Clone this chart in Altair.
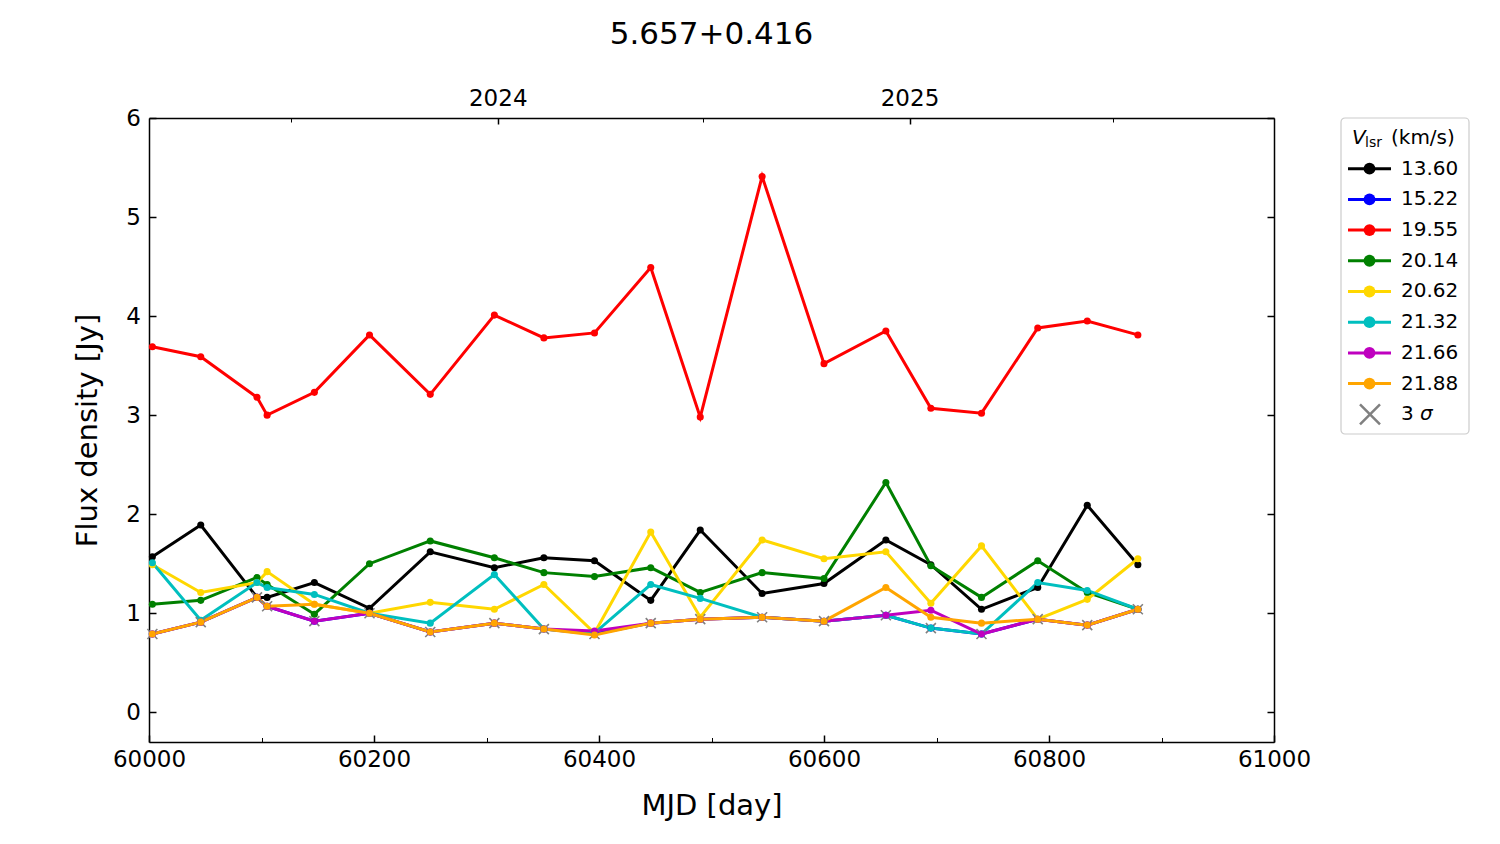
import altair as alt
import pandas as pd

# observation epochs (MJD) and the 3-sigma limit at each epoch
MJD = [60003, 60046, 60096, 60105, 60147, 60196, 60250, 60307, 60351, 60396,
       60446, 60490, 60545, 60600, 60655, 60695, 60740, 60790, 60834, 60879]
SIGMA3 = [0.79, 0.91, 1.16, 1.07, 0.92, 1.00, 0.81, 0.90, 0.84, 0.79,
          0.90, 0.94, 0.96, 0.92, 0.98, 0.85, 0.79, 0.94, 0.88, 1.04]

# flux density per velocity channel [Jy]
F_1360 = [1.57, 1.89, 1.16, 1.16, 1.31, 1.05, 1.62, 1.46, 1.56, 1.53,
          1.13, 1.84, 1.20, 1.30, 1.74, 1.49, 1.04, 1.26, 2.09, 1.49]
F_1522 = [0.79, 0.91, 1.16, 1.07, 0.92, 1.00, 0.81, 0.90, 0.84, 0.79,
          0.90, 0.94, 0.96, 0.92, 0.98, 0.85, 0.79, 0.94, 0.88, 1.04]
F_1955 = [3.69, 3.59, 3.18, 3.00, 3.23, 3.81, 3.21, 4.01, 3.78, 3.83,
          4.49, 2.98, 5.41, 3.52, 3.85, 3.07, 3.02, 3.88, 3.95, 3.81]
F_2014 = [1.09, 1.13, 1.36, 1.29, 0.99, 1.50, 1.73, 1.56, 1.41, 1.37,
          1.46, 1.21, 1.41, 1.35, 2.32, 1.48, 1.16, 1.53, 1.21, 1.04]
F_2062 = [1.49, 1.21, 1.31, 1.42, 1.09, 1.00, 1.11, 1.04, 1.29, 0.80,
          1.82, 0.96, 1.74, 1.55, 1.62, 1.10, 1.68, 0.94, 1.14, 1.55]
F_2132 = [1.51, 0.93, 1.31, 1.26, 1.19, 1.00, 0.90, 1.39, 0.84, 0.80,
          1.29, 1.15, 0.96, 0.92, 0.98, 0.85, 0.79, 1.31, 1.23, 1.04]
F_2166 = [0.79, 0.91, 1.16, 1.07, 0.92, 1.00, 0.81, 0.90, 0.84, 0.82,
          0.90, 0.94, 0.96, 0.92, 0.98, 1.03, 0.79, 0.94, 0.88, 1.04]
F_2188 = [0.79, 0.91, 1.16, 1.07, 1.09, 1.00, 0.81, 0.90, 0.84, 0.78,
          0.90, 0.94, 0.96, 0.92, 1.26, 0.96, 0.90, 0.94, 0.88, 1.04]

LABELS = ["13.60", "15.22", "19.55", "20.14", "20.62", "21.32", "21.66", "21.88"]
COLORS = ["black", "#0000ff", "#ff0000", "#008000", "#ffd700", "#00bfbf", "#bf00bf", "#ffa500"]
SERIES = [F_1360, F_1522, F_1955, F_2014, F_2062, F_2132, F_2166, F_2188]

X_MAJOR = [60000, 60200, 60400, 60600, 60800, 61000]
X_MINOR = [60100, 60300, 60500, 60700, 60900]
Y_TICKS = [0, 1, 2, 3, 4, 5, 6]
YEAR_MJD = [60310, 60676]
YEAR_LABELS = ["2024", "2025"]
HALF_YEAR_MJD = [60126, 60492, 60857]

FONT = "DejaVu Sans"
XPATH = "M-1,-1L1,1M-1,1L1,-1"

df = pd.DataFrame([
    {"mjd": m, "flux": f, "vlsr": lab}
    for lab, vals in zip(LABELS, SERIES)
    for m, f in zip(MJD, vals)
])
sig_df = pd.DataFrame({"mjd": MJD, "flux": SIGMA3})


def axis(**kw):
    opts = dict(grid=False, domain=False, labelFlush=False, labelOverlap=False,
                tickColor="black", tickWidth=1.5, labelColor="black",
                labelFont=FONT, labelFontSize=23, titleFont=FONT,
                titleFontSize=29, titleFontWeight="normal", titleColor="black",
                domainColor="black", domainWidth=1.5)
    opts.update(kw)
    return alt.Axis(**opts)


x_scale = alt.Scale(domain=[60000, 61000], nice=False, zero=False)
y_scale = alt.Scale(domain=[-0.3, 6], nice=False, zero=False)
c_scale = alt.Scale(domain=LABELS, range=COLORS)

year_expr = " : ".join(
    [f"datum.value == {m} ? '{lab}'" for m, lab in zip(YEAR_MJD[:-1], YEAR_LABELS[:-1])]
    + [f"'{YEAR_LABELS[-1]}'"]
)

lines = alt.Chart(df).mark_line(strokeWidth=3).encode(
    x=alt.X("mjd:Q", scale=x_scale,
            axis=axis(orient="bottom", values=X_MAJOR, format="d",
                      tickSize=alt.ExprRef(expr="-7"), labelPadding=13,
                      domain=True, title="MJD [day]", titlePadding=20)),
    y=alt.Y("flux:Q", scale=y_scale,
            axis=axis(orient="left", values=Y_TICKS, format="d",
                      tickSize=alt.ExprRef(expr="-7"), labelPadding=15.5,
                      domain=True, title="Flux density [Jy]", titlePadding=23)),
    color=alt.Color("vlsr:N", scale=c_scale, legend=None),
)

crosses = alt.Chart(sig_df).mark_point(
    shape=XPATH, size=100, filled=False, color="gray", strokeWidth=1.6, opacity=1
).encode(
    x=alt.X("mjd:Q", scale=x_scale,
            axis=axis(orient="top", values=YEAR_MJD, labelExpr=year_expr,
                      tickSize=alt.ExprRef(expr="-6"), labelPadding=14,
                      domain=True, title=None)),
    y=alt.Y("flux:Q", scale=y_scale, axis=None),
)

points = alt.Chart(df).mark_circle(size=50, opacity=1).encode(
    x=alt.X("mjd:Q", scale=x_scale,
            axis=axis(orient="bottom", values=X_MINOR, labels=False,
                      tickSize=alt.ExprRef(expr="-4.5"), tickWidth=1, title=None)),
    y=alt.Y("flux:Q", scale=y_scale,
            axis=axis(orient="right", values=Y_TICKS, labels=False,
                      tickSize=alt.ExprRef(expr="-7"), domain=True, title=None)),
    color=alt.Color("vlsr:N", scale=c_scale, legend=None),
)

half_years = alt.Chart(sig_df).mark_point(opacity=0).encode(
    x=alt.X("mjd:Q", scale=x_scale,
            axis=axis(orient="top", values=HALF_YEAR_MJD, labels=False,
                      tickSize=alt.ExprRef(expr="-4"), tickWidth=1, title=None)),
    y=alt.Y("flux:Q", scale=y_scale, axis=None),
)

main = (
    alt.layer(lines, crosses, points, half_years)
    .resolve_axis(x="independent", y="independent")
    .properties(
        width=1125, height=624,
        title=alt.Title("5.657+0.416", font=FONT, fontSize=31, fontWeight="normal",
                        color="black", anchor="middle", frame="group", offset=36),
    )
)

# legend panel
LEG_W, LEG_TOP, LEG_BOTTOM = 128, -0.651, 9.642
leg_x = alt.Scale(domain=[0, LEG_W], nice=False, zero=False)
leg_y = alt.Scale(domain=[LEG_TOP, LEG_BOTTOM], nice=False, zero=False, reverse=True)
leg_df = pd.DataFrame({"row": list(range(1, len(LABELS) + 1)), "vlsr": LABELS})
sig_row = pd.DataFrame({"row": [len(LABELS) + 1]})
title_row = pd.DataFrame({"row": [0]})


def ly(field="row:Q"):
    return alt.Y(field, scale=leg_y, axis=None)


def lx(v):
    return alt.X(datum=v, scale=leg_x, axis=None)


box = alt.Chart(title_row).mark_rect(
    fill="white", stroke="#cccccc", strokeWidth=1.2, cornerRadius=4
).encode(x=lx(0), x2=alt.X2(datum=LEG_W),
         y=alt.Y(datum=LEG_TOP, scale=leg_y, axis=None), y2=alt.Y2(datum=LEG_BOTTOM))

leg_lines = alt.Chart(leg_df).mark_rule(strokeWidth=3).encode(
    x=lx(7), x2=alt.X2(datum=50), y=ly(),
    color=alt.Color("vlsr:N", scale=c_scale, legend=None))
leg_dots = alt.Chart(leg_df).mark_circle(size=140, opacity=1).encode(
    x=lx(28.5), y=ly(), color=alt.Color("vlsr:N", scale=c_scale, legend=None))
leg_text = alt.Chart(leg_df).mark_text(
    align="left", baseline="middle", font=FONT, fontSize=20, color="black"
).encode(x=lx(60), y=ly(), text="vlsr:N")

leg_cross = alt.Chart(sig_row).mark_point(
    shape=XPATH, size=400, filled=False, color="gray", strokeWidth=2.5, opacity=1
).encode(x=lx(29), y=ly())
leg_three = alt.Chart(sig_row).mark_text(
    align="left", baseline="middle", font=FONT, fontSize=20, color="black"
).encode(x=lx(60), y=ly(), text=alt.value("3"))
leg_sigma = alt.Chart(sig_row).mark_text(
    align="left", baseline="middle", font=FONT, fontSize=20, fontStyle="italic", color="black"
).encode(x=lx(79), y=ly(), text=alt.value("σ"))

t_v = alt.Chart(title_row).mark_text(
    align="left", baseline="middle", font=FONT, fontSize=20, fontStyle="italic", color="black"
).encode(x=lx(11), y=ly(), text=alt.value("V"))
t_sub = alt.Chart(title_row).mark_text(
    align="left", baseline="middle", font=FONT, fontSize=14, dy=5, color="black"
).encode(x=lx(24), y=ly(), text=alt.value("lsr"))
t_unit = alt.Chart(title_row).mark_text(
    align="left", baseline="middle", font=FONT, fontSize=20, color="black"
).encode(x=lx(50), y=ly(), text=alt.value("(km/s)"))

legend = alt.layer(
    box, leg_lines, leg_dots, leg_text, leg_cross, leg_three, leg_sigma, t_v, t_sub, t_unit
).properties(width=LEG_W, height=316)

chart = (
    alt.hconcat(main, legend, spacing=67, bounds="flush")
    .properties(padding={"left": 65, "top": 10, "right": 5, "bottom": 5})
    .configure(font=FONT)
    .configure_view(stroke="transparent")
)

chart.save("out.html", embed_options={"renderer": "svg", "actions": False})
